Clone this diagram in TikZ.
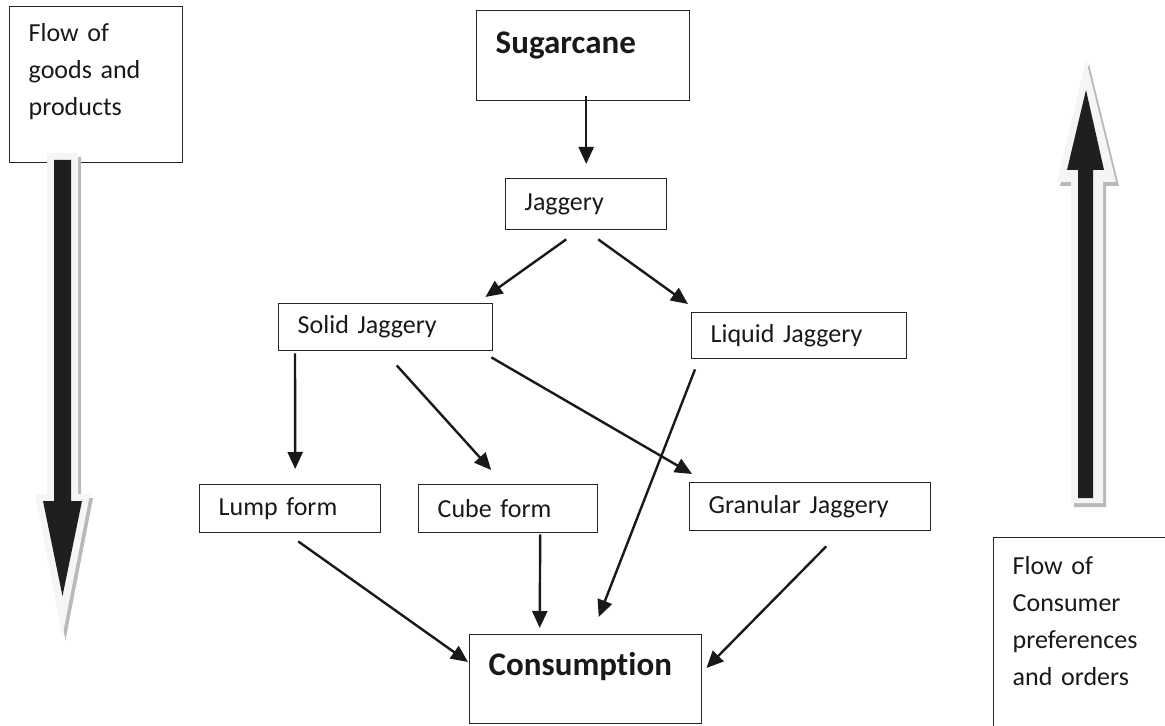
\documentclass[tikz,border=0pt]{standalone}
\usepackage{fontspec}
\setmainfont{Carlito}[Ligatures=NoCommon]
\usetikzlibrary{arrows.meta}
\usetikzlibrary{scopes}

\tikzset{
    jbox/.style={draw=black!85, line width=0.7pt, anchor=north west,
        inner ysep=0pt, inner xsep=9.5pt, align=left, text=black!90,
        font=\fontsize{13}{18.5}\selectfont},
    jhead/.style={jbox, font=\fontsize{16.5}{20}\selectfont\bfseries},
    flow/.style={-{Triangle[length=8.5pt,width=7.5pt]}, line width=1.2pt, black!90},
    bigback/.style={fill=gray!8,
        preaction={fill=gray!55, transform canvas={xshift=1.5pt,yshift=-2pt}}},
    bigfront/.style={fill=black!88}
}

\begin{document}
\begin{tikzpicture}[x=0.5pt, y=-0.5pt]
    \clip (0,0) rectangle (1165,726);

    % side boxes
    \node[jbox, text width=67.5pt, text height=17.5pt, text depth=60.5pt]
        (goods) at (9,6) {Flow of\\goods and\\products};
    \node[jbox, text width=84.5pt, text height=18.5pt, text depth=81.5pt]
        (prefs) at (993,537) {Flow of\\Consumer\\preferences\\and orders};

    % chain
    \node[jhead, text width=87.5pt, text height=21.5pt, text depth=23.5pt]
        (sugar) at (476,10) {Sugarcane};
    \node[jbox, text width=61.5pt, minimum height=25.5pt] (jag) at (505,178) {Jaggery};
    \node[jbox, text width=88pt, minimum height=23.5pt] (solid) at (278,303) {Solid Jaggery};
    \node[jbox, text width=88.5pt, minimum height=23pt] (liquid) at (691,312) {Liquid Jaggery};
    \node[jbox, text width=71.5pt, minimum height=24pt] (lump) at (199,484) {Lump form};
    \node[jbox, text width=70.5pt, minimum height=24pt] (cube) at (418,484) {Cube form};
    \node[jbox, text width=101.5pt, minimum height=24pt] (gran) at (689,482) {Granular Jaggery};
    \node[jhead, text width=97pt, text height=20.5pt, text depth=24pt]
        (cons) at (469,634) {Consumption};

    \draw[flow] ([shift={(3,-5)}]sugar.south) -- ([shift={(0,-14)}]jag.north);
    \draw[flow] ([shift={(-20,9)}]jag.south) -- ([shift={(-8,-6)}]solid.north east);
    \draw[flow] ([shift={(12,9)}]jag.south) -- ([shift={(-3,-8)}]liquid.north west);
    \draw[flow] ([shift={(17,2)}]solid.south west) -- ([shift={(5,-15)}]lump.north);
    \draw[flow] ([shift={(11,14)}]solid.south) -- ([shift={(-17,-14)}]cube.north);
    \draw[flow] ([shift={(-2,6)}]solid.south east) -- ([shift={(3,-8)}]gran.north west);
    \draw[flow] ([shift={(4,10)}]liquid.south west) -- ([shift={(13,-17)}]cons.north);
    \draw[flow] ([shift={(8,8)}]lump.south) -- ([shift={(-1,28)}]cons.north west);
    \draw[flow] ([shift={(32,1)}]cube.south) -- ([shift={(-46,-6)}]cons.north);
    \draw[flow] ([shift={(16,15)}]gran.south) -- ([shift={(4,34)}]cons.north east);

    % big flow arrows
    { []
        \fill[bigback] (47,153) -- (78,153) -- (78,494) -- (90,494) -- (62.5,636)
            -- (35,494) -- (47,494) -- cycle;
        \fill[bigfront] (54,160) -- (71,160) -- (71,501) -- (82,501) -- (62.5,596)
            -- (43,501) -- (54,501) -- cycle;
    }
    { []
        \fill[bigback] (1071,503) -- (1103,503) -- (1103,182) -- (1116,182) -- (1086,60)
            -- (1057,182) -- (1071,182) -- cycle;
        \fill[bigfront] (1078,498) -- (1093,498) -- (1093,170) -- (1104,170) -- (1086,90)
            -- (1067,170) -- (1078,170) -- cycle;
    }
\end{tikzpicture}
\end{document}
